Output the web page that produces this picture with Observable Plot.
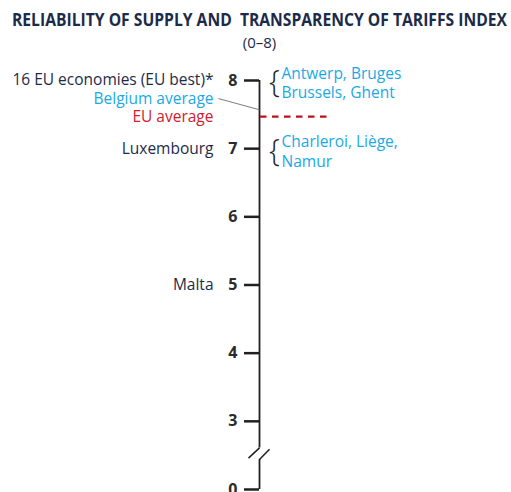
<!DOCTYPE html>
<html><head><meta charset="utf-8">
<script src="https://cdn.jsdelivr.net/npm/d3@7"></script>
<script src="https://cdn.jsdelivr.net/npm/@observablehq/plot@0.6"></script>
<style>
body{margin:0;background:#fff;}
#wrap{position:relative;width:511px;height:492px;font-family:"Open Sans",sans-serif;color:#1c2b49;overflow:hidden;}
#title{position:absolute;top:8px;left:12px;white-space:nowrap;}
#title span{display:inline-block;font-weight:700;font-size:18px;line-height:22px;transform-origin:left center;white-space:pre;}
#sub{position:absolute;top:32px;left:0;width:519px;text-align:center;font-size:15px;line-height:20px;}
#chart{position:absolute;top:52px;left:0;}
</style></head><body>
<div id="wrap">
<div id="title"><span id="tspan">RELIABILITY OF SUPPLY AND  TRANSPARENCY OF TARIFFS INDEX</span></div>
<div id="sub">(0–8)</div>
<div id="chart"></div>
</div>
<script>
// ---- data ----
const tickValues = [0, 3, 4, 5, 6, 7, 8];
const leftLabels = ["16 EU economies (EU best)*", "Luxembourg", "Malta"];
const leftValues = [8, 7, 5];
const rightLabels = ["Antwerp, Bruges\nBrussels, Ghent", "Charleroi, Liège,\nNamur"];
const rightValues = [8, 7];
const averageLabels = ["Belgium average", "EU average"];
const belgiumAverage = 7.57;
const euAverage = 7.47;

// ---- styling ----
const navy = "#1c2b49", blue = "#1aa9e4", red = "#d0202e", darkRed = "#b8121f", ink = "#231f20";

// broken axis: values below 3 are compressed into [2,3)
const pos = v => v >= 3 ? v : 2 + v / 3;
const unpos = p => p >= 3 ? p : Math.round((p - 2) * 3);
const breakLo = 2.44, breakHi = 2.61;

const leftData = leftLabels.map((label, i) => ({label, value: leftValues[i]}));
const rightData = rightLabels.map((label, i) => ({label, value: rightValues[i]}));

// fit title width
const ts = document.getElementById("tspan");
const w = ts.getBoundingClientRect().width;
ts.style.transform = `scaleX(${495 / w})`;

const chart = Plot.plot({
  width: 511, height: 440,
  marginLeft: 259, marginRight: 0, marginTop: 28, marginBottom: 3,
  x: {domain: [0, 252], axis: null},
  y: {domain: [2, 8], axis: null},
  style: {fontFamily: "Open Sans", background: "#fff", overflow: "visible"},
  marks: [
    // axis line with break
    Plot.ruleX([0], {y1: 8, y2: breakHi, stroke: ink, strokeWidth: 1.8}),
    Plot.ruleX([0], {y1: breakLo, y2: pos(0), stroke: ink, strokeWidth: 1.8}),
    Plot.link([0], {x1: -11, y1: breakLo + 0.02, x2: 0, y2: breakHi, stroke: ink, strokeWidth: 1.5}),
    Plot.link([0], {x1: 0, y1: breakLo, x2: 10, y2: breakHi - 0.02, stroke: ink, strokeWidth: 1.5}),
    // ticks + labels
    Plot.axisY(tickValues.map(pos), {
      anchor: "left", label: null, tickSize: 15, tickPadding: 7, tickFormat: unpos,
      stroke: ink, strokeWidth: 2.5, fill: "#2b2b2b", fontSize: 16, fontWeight: "bold"
    }),
    // EU average dashed line
    Plot.ruleY([euAverage], {x1: 1, x2: 68, stroke: darkRed, strokeWidth: 2.2, strokeDasharray: "6.5,5.5"}),
    // Belgium average leader line
    Plot.link([belgiumAverage], {x1: -41, y1: euAverage + 18 / 68, x2: 0, y2: d => d, stroke: "#6d6d6d", strokeWidth: 0.9}),
    // left labels
    Plot.text(leftData, {x: -46, y: "value", text: "label", textAnchor: "end", fill: navy, fontSize: 15.5}),
    Plot.text([averageLabels[0]], {x: -46, y: euAverage, dy: -18, text: d => d, textAnchor: "end", fill: blue, fontSize: 15.5}),
    Plot.text([averageLabels[1]], {x: -46, y: euAverage, text: d => d, textAnchor: "end", fill: red, fontSize: 15.5}),
    // right labels with braces
    Plot.text(rightData, {x: 15, y: "value", dy: 2, text: () => "{", fill: ink, fontSize: 31, fontWeight: 300, textAnchor: "middle"}),
    Plot.text(rightData, {x: 22, y: "value", dy: 2, text: "label", textAnchor: "start", fill: blue, fontSize: 15.5, lineHeight: 1.25})
  ]
});
document.getElementById("chart").append(chart);
</script>
</body></html>
